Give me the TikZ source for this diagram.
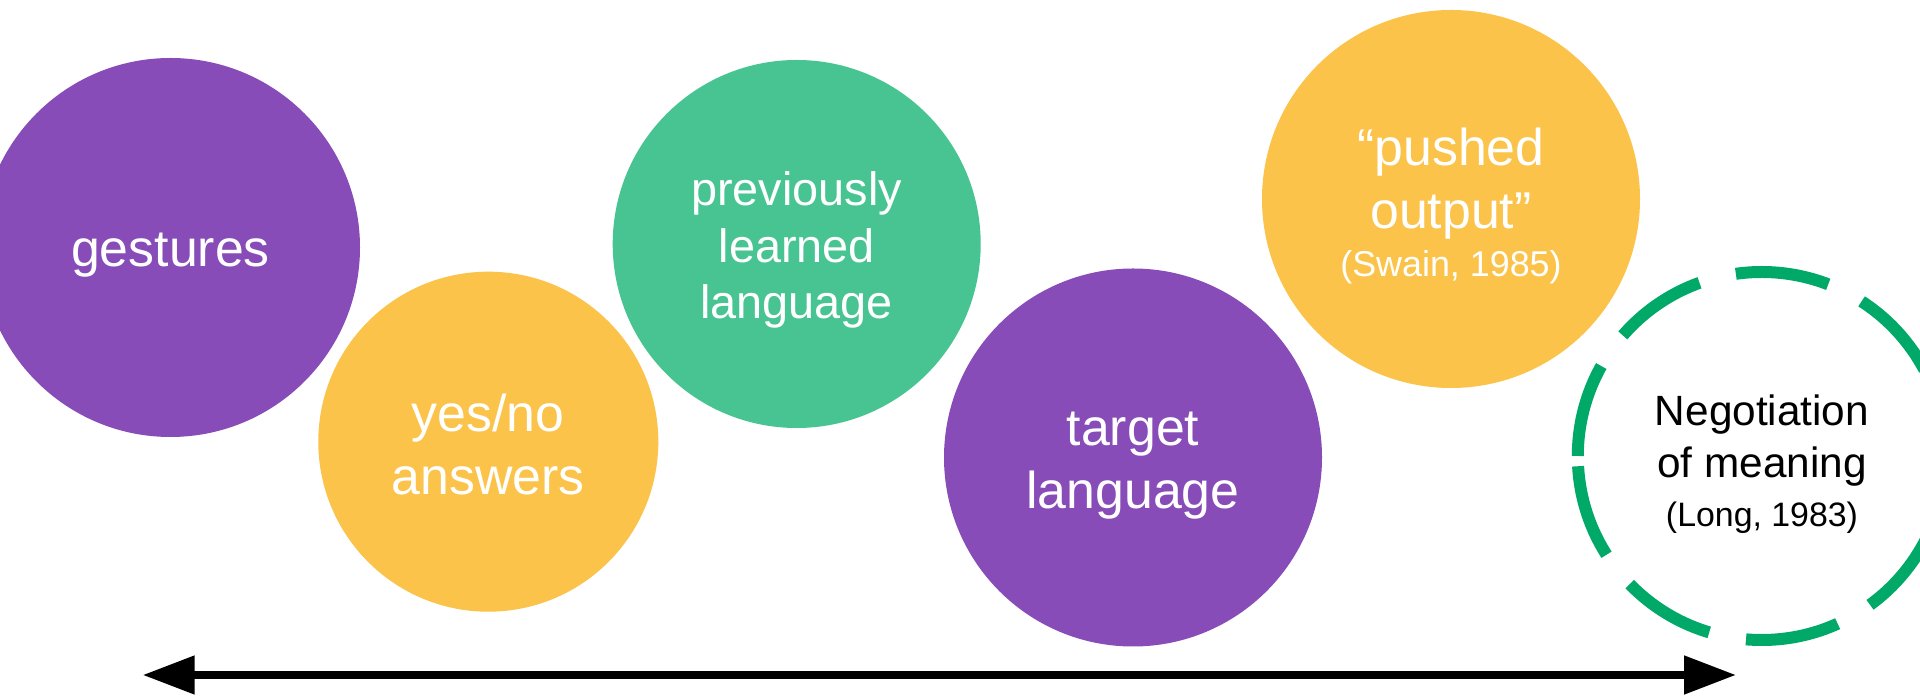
\documentclass[tikz,border=0pt]{standalone}
\usepackage{fontspec}
\setmainfont{Liberation Sans}
\usetikzlibrary{arrows.meta}

\definecolor{plum}{HTML}{884CB8}
\definecolor{sun}{HTML}{FBC34A}
\definecolor{mint}{HTML}{48C492}
\definecolor{leaf}{HTML}{00A968}

\tikzset{
  bubble/.style={circle, inner sep=0pt},
  bubbletext/.style={inner sep=0pt, align=center, text=white,
    font=\fontsize{52}{63.5}\selectfont},
  ringdash/.style={leaf, line width=12bp, dash pattern=on 94bp off 37.5bp},
  scaleline/.style={line width=8bp,
    {Triangle[length=52bp,width=37bp]}-{Triangle[length=52bp,width=37bp]}},
}

\begin{document}
\begin{tikzpicture}[x=1bp,y=1bp]
  \clip (0,0) rectangle (1920,699);
  \fill[white] (0,0) rectangle (1920,699);

  % coloured bubbles
  \node[bubble, fill=plum, minimum size=379bp] (gest) at (170.5,451.5) {};
  \node[bubble, fill=sun,  minimum size=340bp] (yesno) at (488.3,257.3) {};
  \node[bubble, fill=mint, minimum size=368bp] (prev) at (796.7,455) {};
  \node[bubble, fill=plum, minimum size=378bp] (target) at (1133,241.5) {};
  \node[bubble, fill=sun,  minimum size=378bp] (pushed) at (1451,500) {};

  % bubble texts
  \node[bubbletext] (gestT) at ([yshift=-8bp]gest.center) {gestures};
  \node[bubbletext] (yesnoT) at ([yshift=-3bp]yesno.center) {yes/no\\answers};
  \node[bubbletext, font=\fontsize{47}{57}\selectfont] (prevT)
        at ([yshift=-6bp]prev.center) {previously\\learned\\language};
  \node[bubbletext] (targetT) at ([yshift=-8bp]target.center) {target\\language};
  \node[bubbletext] (pushedT) at ([yshift=-7bp]pushed.center)
        {“pushed\\output”\\[-15bp]{\fontsize{36}{43}\selectfont (Swain, 1985)}};

  % dashed ring with black text
  \node[bubble, minimum size=368bp] (neg) at (1762,243) {};
  \draw[ringdash] (neg.west) arc[start angle=180, end angle=-180, radius=184bp];
  \node[inner sep=0pt, align=center, font=\fontsize{42.5}{53}\selectfont] (negT)
        at ([yshift=-8bp]neg.center)
        {Negotiation\\of meaning\\[-4bp]{\fontsize{34}{41}\selectfont (Long, 1983)}};

  % double-headed scale arrow
  \coordinate (lo) at (142.7,24);
  \coordinate (hi) at (1736,24);
  \draw[scaleline] (lo) -- (hi);
\end{tikzpicture}
\end{document}
